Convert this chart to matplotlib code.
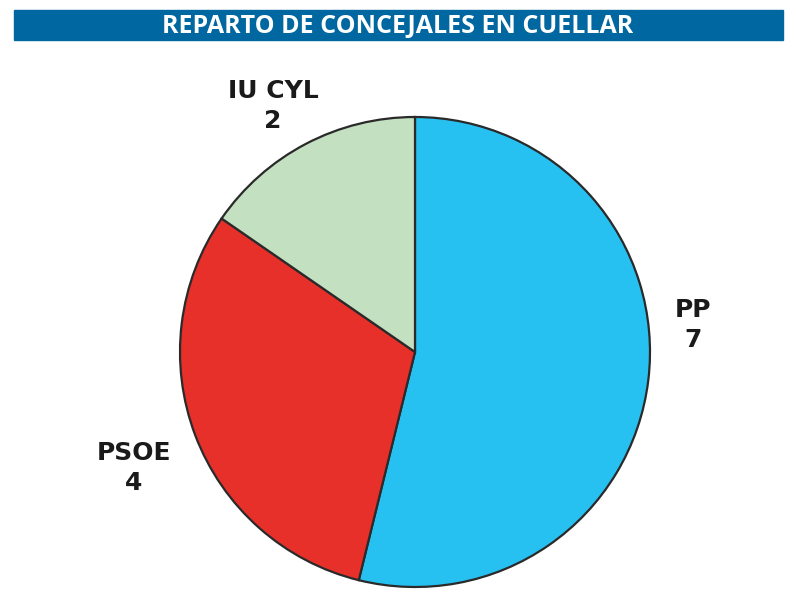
import matplotlib.pyplot as plt
from matplotlib.patches import Rectangle

partidos = ["PP", "PSOE", "IU CYL"]
concejales = [7, 4, 2]
colores = ["#27c1f1", "#e8302a", "#c3e1c1"]
titulo = "REPARTO DE CONCEJALES EN CUELLAR"

fig = plt.figure(figsize=(7.96, 5.95), dpi=100)
ax = fig.add_axes([0, 0, 1, 1])
ax.set_xlim(0, 796)
ax.set_ylim(0, 595)
ax.set_aspect("equal")
ax.axis("off")

# banda del titulo
ax.add_patch(Rectangle((14, 555), 769, 30, color="#0067a1", zorder=1))
ax.text(398, 569, titulo, color="white", fontsize=18, fontweight="bold",
        family="Open Sans", ha="center", va="center", zorder=2)

ax.pie(concejales, colors=colores, startangle=90, counterclock=False,
       center=(415, 243), radius=235,
       wedgeprops=dict(edgecolor="#2a2a2a", linewidth=1.6))

label_pos = [(693, 270), (134, 127), (273, 489)]
for nombre, n, (x, y) in zip(partidos, concejales, label_pos):
    ax.text(x, y, f"{nombre}\n{n}", ha="center", va="center", fontsize=18,
            fontweight="bold", color="#1a1a1a", linespacing=1.3)

ax.set_xlim(0, 796)
ax.set_ylim(0, 595)

fig.savefig("out.png", dpi=100)
